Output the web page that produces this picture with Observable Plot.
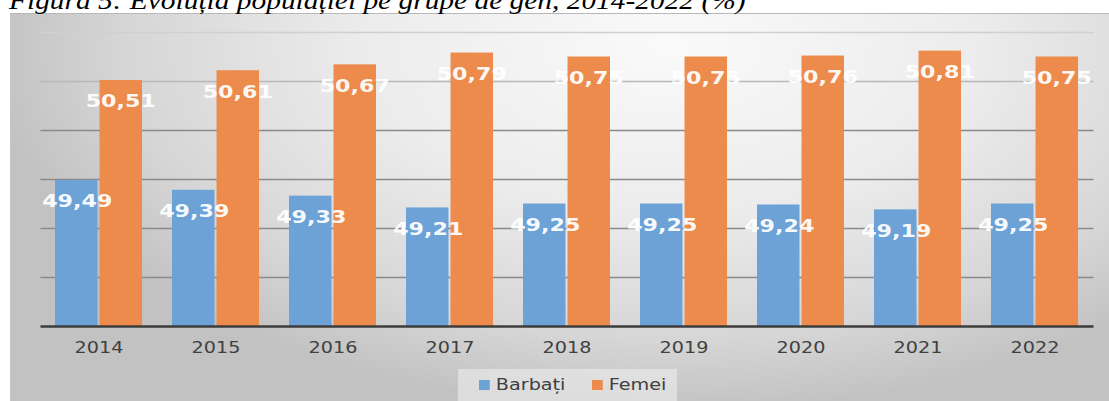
<!DOCTYPE html>
<html>
<head>
<meta charset="utf-8">
<script src="https://cdn.jsdelivr.net/npm/d3@7"></script>
<script src="https://cdn.jsdelivr.net/npm/@observablehq/plot@0.6"></script>
<style>
  html, body { margin: 0; padding: 0; background: #ffffff; }
  #wrap { position: relative; width: 1109px; height: 401px; overflow: hidden; background: #fff; }
  #title { position: absolute; left: 9px; top: -13px; white-space: nowrap;
           font-family: "Liberation Serif", "Times New Roman", serif; font-style: italic;
           font-size: 24.5px; line-height: 28px; color: #000;
           transform: scaleX(1.2); transform-origin: 0 0; }
  #panel { position: absolute; left: 10px; top: 13px; width: 1099px; height: 388px;
           border-top: 1px solid #b8b8b8; border-left: 1px solid #c8c8c8; box-sizing: border-box;
           background:
             radial-gradient(ellipse 62% 95% at 60% 8%, rgba(250,250,250,1) 0%, rgba(236,236,236,1) 45%, rgba(214,214,214,1) 80%, rgba(194,194,194,1) 100%); }
  #chart { position: absolute; left: 0; top: 0; }
  #chart svg { background: transparent; }
  #legend { position: absolute; left: 458px; top: 369px; width: 219px; height: 40px;
            background: rgba(236,236,236,0.6);
            font-family: "DejaVu Sans", sans-serif; font-size: 16px; color: #404040; }
  .item { position: absolute; top: 6px; height: 20px; line-height: 20px; white-space: nowrap;
          transform: scaleX(1.2); transform-origin: 0 50%; }
  .sw { display: inline-block; width: 9px; height: 10px; margin-right: 5px; vertical-align: 0px; }
</style>
</head>
<body>
<div id="wrap">
  <div id="panel"></div>
  <div id="chart"></div>
  <div id="title">Figura 5: Evoluția populației pe grupe de gen, 2014-2022 (%)</div>
  <div id="legend"></div>
</div>
<script>
// ---- data ----
const years = ["2014", "2015", "2016", "2017", "2018", "2019", "2020", "2021", "2022"];
const barbati = [49.49, 49.39, 49.33, 49.21, 49.25, 49.25, 49.24, 49.19, 49.25];
const femei = [50.51, 50.61, 50.67, 50.79, 50.75, 50.75, 50.76, 50.81, 50.75];
const seriesNames = ["Barbați", "Femei"];
const seriesColors = ["#6ca2d6", "#ec8b4b"];
const yTicks = [48, 48.5, 49, 49.5, 50, 50.5, 51];

const rowsB = years.map((y, i) => ({year: y, value: barbati[i]}));
const rowsF = years.map((y, i) => ({year: y, value: femei[i]}));
const fmt = v => v.toFixed(2).replace(".", ",");

// ---- layout ----
const W = 1109, H = 401;
const mL = 40.5, mR = 15.5, mT = 32, mB = 75;
const padInner = 0.256, padOuter = 0.128;
const step = (W - mL - mR) / (years.length - padInner + 2 * padOuter);
const band = step * (1 - padInner);
const half = band / 2;
const gap = 1;
const stretch = 1.2;

const plot = Plot.plot({
  width: W, height: H,
  marginLeft: mL, marginRight: mR, marginTop: mT, marginBottom: mB,
  style: {background: "transparent", fontFamily: "DejaVu Sans, sans-serif"},
  x: {type: "band", domain: years, paddingInner: padInner, paddingOuter: padOuter, axis: null},
  y: {domain: [yTicks[0], yTicks[yTicks.length - 1]], axis: null},
  marks: [
    Plot.ruleY(yTicks.slice(1), {
      y: d => d,
      stroke: d => d >= 51 ? "#d0d0d0" : d >= 50.5 ? "#b8b8b8" : "#8a8a8a",
      strokeWidth: 1.6
    }),
    Plot.barY(rowsB, {x: "year", y1: yTicks[0], y2: "value", fill: seriesColors[0], insetRight: half + gap}),
    Plot.barY(rowsF, {x: "year", y1: yTicks[0], y2: "value", fill: seriesColors[1], insetLeft: half + gap}),
    Plot.ruleY([yTicks[0]], {stroke: "#3c3c3c", strokeWidth: 2.6}),
    Plot.text(rowsB, {x: "year", y: "value", text: d => fmt(d.value), dx: -half / 2, dy: 21,
      lineAnchor: "middle", fill: "#ffffff", fontWeight: "bold", fontSize: 18.5, fillOpacity: 0.96}),
    Plot.text(rowsF, {x: "year", y: "value", text: d => fmt(d.value), dx: half / 2, dy: 21,
      lineAnchor: "middle", fill: "#ffffff", fontWeight: "bold", fontSize: 18.5, fillOpacity: 0.96}),
    Plot.text(years, {x: d => d, frameAnchor: "bottom", dy: 21, lineAnchor: "middle",
      fill: "#404040", fontSize: 16})
  ]
});
document.getElementById("chart").appendChild(plot);

// widen glyphs horizontally about each text's own centre (the reference is stretched)
d3.select(plot).selectAll("text").each(function() {
  const bb = this.getBBox();
  const cx = bb.x + bb.width / 2;
  const t = this.getAttribute("transform") || "";
  this.setAttribute("transform", `${t} translate(${cx},0) scale(${stretch},1) translate(${-cx},0)`);
});

// ---- legend ----
const legend = document.getElementById("legend");
const legendX = [21, 134];
seriesNames.forEach((name, i) => {
  const it = document.createElement("div");
  it.className = "item";
  it.style.left = legendX[i] + "px";
  it.innerHTML = `<span class="sw" style="background:${seriesColors[i]}"></span>${name}`;
  legend.appendChild(it);
});
</script>
</body>
</html>
